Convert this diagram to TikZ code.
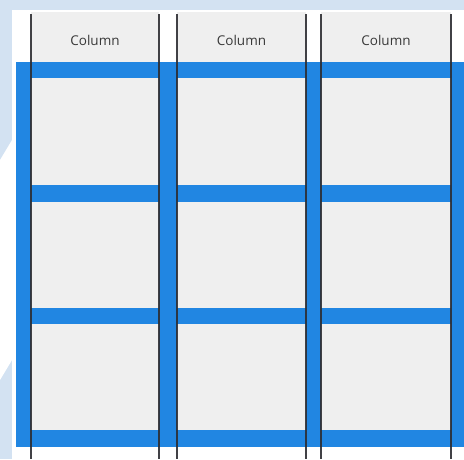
\documentclass[tikz,border=0pt]{standalone}
\usepackage{fontspec}
\setmainfont{Open Sans}
\usetikzlibrary{positioning}
\definecolor{gridblue}{RGB}{33,134,226}
\definecolor{paleblue}{RGB}{211,226,242}
\definecolor{cellgray}{RGB}{239,239,239}
\definecolor{rulegray}{RGB}{45,45,50}
\tikzset{
  cell/.style={fill=cellgray, draw=none},
  colrule/.style={draw=rulegray, line width=1.9pt, opacity=0.9},
  coltitle/.style={font=\fontsize{13.5}{15}\selectfont, text=black!78}
}

\begin{document}
\begin{tikzpicture}[x=1pt, y=-1pt]
  \useasboundingbox (0,0) rectangle (464,459);
  % page background
  \fill[paleblue] (0,0) rectangle (464,459);
  \fill[white] (12,10) rectangle (464,459);
  \fill[white] (0,160) -- (12,140) -- (12,360) -- (0,380) -- cycle;
  % header cells
  \fill[cell] (31,12) rectangle (159,62);
  \fill[cell] (177,12) rectangle (306,62);
  \fill[cell] (321,12) rectangle (451,62);
  \node[coltitle] (t1) at (95,40) {Column};
  \node[coltitle] (t2) at (241.5,40) {Column};
  \node[coltitle] (t3) at (386,40) {Column};
  % blue grid and cells
  \fill[gridblue] (16,62) rectangle (464,447);
  \foreach \ya/\yb in {78/185, 202/308, 324/430} {
    \fill[cell] (31,\ya) rectangle (159,\yb);
    \fill[cell] (177,\ya) rectangle (306,\yb);
    \fill[cell] (321,\ya) rectangle (451,\yb);
  }
  % column rules
  \foreach \x in {31,159,177,306,321,451}
    \draw[colrule] (\x,14) -- (\x,459);
\end{tikzpicture}
\end{document}
